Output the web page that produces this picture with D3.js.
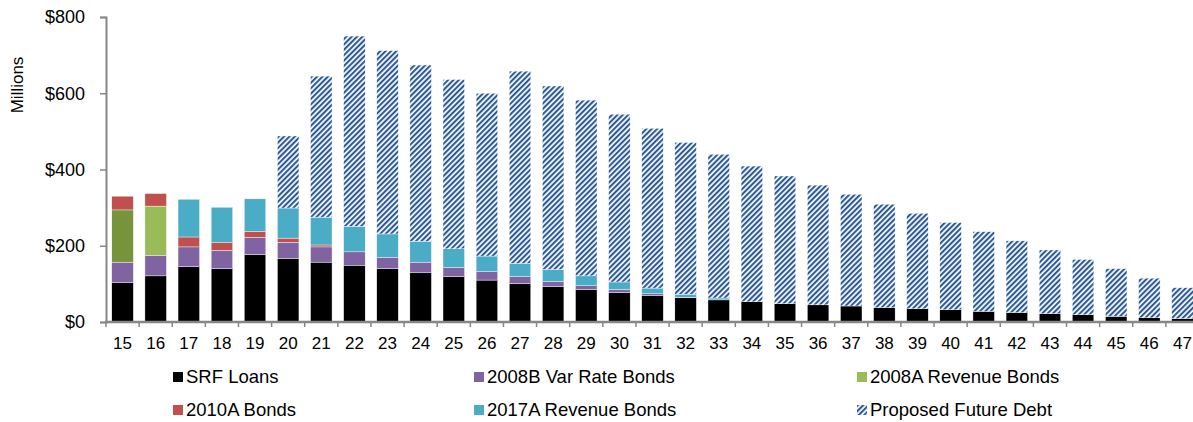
<!DOCTYPE html>
<html>
<head>
<meta charset="utf-8">
<script src="https://cdn.jsdelivr.net/npm/d3@7"></script>
<style>
  html, body { margin: 0; padding: 0; background: #fff; }
  svg { display: block; font-family: "Liberation Sans", Arial, sans-serif; }
</style>
</head>
<body>
<svg id="chart" width="1193" height="422"></svg>
<script>
// Fiscal years (20xx)
const years = ["15","16","17","18","19","20","21","22","23","24","25","26","27","28","29","30","31","32","33","34","35","36","37","38","39","40","41","42","43","44","45","46","47"];

// Annual debt service, $ millions
const srfLoans      = [103,121,145,140,177,167,157,149,140,129,119,110,101,93,85,77,70,64,58,53,48,45,42,38,35,32,28,25,22,19,15,11,9];
const bonds2008B    = [54,54,52,48,45,42,40,35,30,28,24,22,18,13,10,8,4,1,0,0,0,0,0,0,0,0,0,0,0,0,0,0,0];
const bonds2008A    = [137,129,0,0,0,0,0,0,0,0,0,0,0,0,0,0,0,0,0,0,0,0,0,0,0,0,0,0,0,0,0,0,0];
const bonds2010A    = [36,33,26,20,16,11,5,0,0,0,0,0,0,0,0,0,0,0,0,0,0,0,0,0,0,0,0,0,0,0,0,0,0];
const bonds2017A    = [0,0,99,93,85,79,73,67,61,55,49,41,35,32,26,20,15,8,5,0,0,0,0,0,0,0,0,0,0,0,0,0,0];
const proposedDebt  = [0,0,0,0,0,189,370,499,481,462,444,427,504,481,461,440,419,398,377,356,335,314,293,271,250,229,209,188,167,145,125,104,81];

const seriesNames = ["SRF Loans","2008B Var Rate Bonds","2008A Revenue Bonds","2010A Bonds","2017A Revenue Bonds","Proposed Future Debt"];
const yTicks = [0,200,400,600,800];

const seriesValues = [srfLoans, bonds2008B, bonds2008A, bonds2010A, bonds2017A, proposedDebt];
const rows = years.map((yr, i) => {
  const r = { year: yr };
  seriesNames.forEach((k, j) => r[k] = seriesValues[j][i]);
  return r;
});

const colors = {
  "SRF Loans": "#000000",
  "2008B Var Rate Bonds": "#8064A2",
  "2008A Revenue Bonds": "#9BBB59",
  "2010A Bonds": "#C0504D",
  "2017A Revenue Bonds": "#4BACC6",
  "Proposed Future Debt": "url(#hatch)"
};

const svg = d3.select("#chart");

// diagonal hatch for proposed debt
const defs = svg.append("defs");
const pat = defs.append("pattern")
  .attr("id", "hatch")
  .attr("patternUnits", "userSpaceOnUse")
  .attr("width", 3.8).attr("height", 3.8)
  .attr("patternTransform", "rotate(45)");
pat.append("rect").attr("width", 3.8).attr("height", 3.8).attr("fill", "#fff");
pat.append("rect").attr("x", 0).attr("y", 0).attr("width", 2.1).attr("height", 3.8).attr("fill", "#2D5A98");

const x = d3.scaleBand().domain(years).range([106, 1199]).paddingInner(0.35).paddingOuter(0.175);
const y = d3.scaleLinear().domain([0, 800]).range([322, 17]);

const stack = d3.stack().keys(seriesNames)(rows);

const g = svg.append("g");
stack.forEach(layer => {
  g.append("g").selectAll("rect")
    .data(layer)
    .join("rect")
    .attr("x", d => x(d.data.year))
    .attr("width", x.bandwidth())
    .attr("y", d => y(d[1]))
    .attr("height", d => Math.max(0, y(d[0]) - y(d[1])))
    .attr("fill", (d, i) => (layer.key === "2008A Revenue Bonds" && i === 0) ? "#77933C" : colors[layer.key])
    .attr("stroke", "#fff")
    .attr("stroke-width", 0.4)
    .attr("display", d => (d[1] - d[0]) > 0 ? null : "none");
});

// Y axis
const axisColor = "#878787";
const yAxis = svg.append("g")
  .attr("transform", "translate(106,0)")
  .call(d3.axisLeft(y).tickValues(yTicks).tickFormat(d => "$" + d).tickSize(6).tickPadding(15));
yAxis.select(".domain").attr("stroke", axisColor).attr("stroke-width", 2);
yAxis.selectAll(".tick line").attr("stroke", axisColor).attr("stroke-width", 1.5);
yAxis.selectAll(".tick text").attr("font-size", 18).attr("fill", "#000")
  .attr("font-family", "'Liberation Sans', Arial, sans-serif");

// X axis: labels at bar centres, tick marks on category boundaries
const xAxis = svg.append("g")
  .attr("transform", "translate(0,322)")
  .call(d3.axisBottom(x).tickSize(0).tickPadding(15));
xAxis.select(".domain").remove();
xAxis.selectAll(".tick text").attr("font-size", 17).attr("fill", "#000")
  .attr("font-family", "'Liberation Sans', Arial, sans-serif");

svg.append("line")
  .attr("x1", 105).attr("x2", 1199).attr("y1", 322).attr("y2", 322)
  .attr("stroke", axisColor).attr("stroke-width", 2.5);
svg.append("g").selectAll("line")
  .data(years)
  .join("line")
  .attr("x1", d => x(d) - x.step() * x.paddingInner() / 2)
  .attr("x2", d => x(d) - x.step() * x.paddingInner() / 2)
  .attr("y1", 322).attr("y2", 327)
  .attr("stroke", axisColor).attr("stroke-width", 1.5);

// Axis title
svg.append("text")
  .attr("transform", "translate(23,85) rotate(-90)")
  .attr("text-anchor", "middle")
  .attr("font-size", 17)
  .text("Millions");

// Legend
const legendPos = [
  { x: 173, y: 377 }, { x: 474, y: 377 }, { x: 857, y: 377 },
  { x: 173, y: 410 }, { x: 474, y: 410 }, { x: 857, y: 410 }
];
const legendOrder = ["SRF Loans","2008B Var Rate Bonds","2008A Revenue Bonds","2010A Bonds","2017A Revenue Bonds","Proposed Future Debt"];
legendOrder.forEach((name, i) => {
  const p = legendPos[i];
  const lg = svg.append("g").attr("transform", `translate(${p.x},${p.y})`);
  lg.append("rect").attr("x", 0).attr("y", -5).attr("width", 10).attr("height", 10)
    .attr("fill", colors[name]);
  lg.append("text").attr("x", 13).attr("y", 0).attr("dy", "0.35em")
    .attr("font-size", 18.5).text(name);
});
</script>
</body>
</html>
